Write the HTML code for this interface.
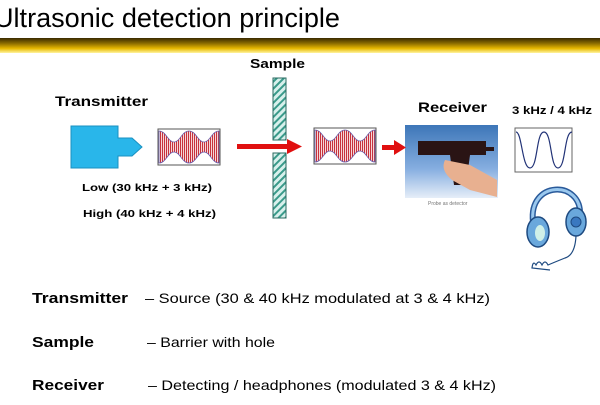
<!DOCTYPE html>
<html><head><style>
body{margin:0;width:600px;height:400px;overflow:hidden;background:#fff;font-family:"Liberation Sans",sans-serif}
</style></head><body>
<svg width="600" height="400" viewBox="0 0 600 400" xmlns="http://www.w3.org/2000/svg">
<defs>
<linearGradient id="bar" x1="0" y1="0" x2="0" y2="1">
<stop offset="0" stop-color="#3a2a00"/><stop offset="0.35" stop-color="#8a6a00"/><stop offset="0.7" stop-color="#e8b800"/><stop offset="1" stop-color="#fff4a0"/></linearGradient>
<pattern id="stripes" width="2" height="10" patternUnits="userSpaceOnUse"><rect width="1.2" height="10" fill="#c8323c"/></pattern>
<pattern id="hatch" width="5" height="5" patternUnits="userSpaceOnUse" patternTransform="rotate(45)"><rect width="5" height="5" fill="#d8f0ec"/><rect width="2" height="5" fill="#3a9a8a"/></pattern>
<linearGradient id="sky" x1="0" y1="0" x2="0" y2="1"><stop offset="0" stop-color="#3d76b8"/><stop offset="0.6" stop-color="#86aee0"/><stop offset="1" stop-color="#e6eef8"/></linearGradient>
<g id="pkt">
<rect x="0" y="0" width="62" height="36" fill="#fff" stroke="#555" stroke-width="1"/>
<path d="M1,2 C8,2 10,13 16,13 C22,13 24,2 31,2 C38,2 40,13 46,13 C52,13 54,2 61,2 L61,34 C54,34 52,23 46,23 C40,23 38,34 31,34 C24,34 22,23 16,23 C10,23 8,34 1,34 Z" fill="url(#stripes)" stroke="#6a5aa8" stroke-width="0.8"/>
</g>
</defs>
<text x="-6" y="27" font-size="27" fill="#000" textLength="346" lengthAdjust="spacingAndGlyphs">Ultrasonic  detection  principle</text>
<rect x="0" y="38" width="600" height="15" fill="url(#bar)"/>
<text x="250" y="68" font-size="13" font-weight="bold" textLength="55" lengthAdjust="spacingAndGlyphs">Sample</text>
<text x="55" y="106" font-size="14" font-weight="bold" textLength="93" lengthAdjust="spacingAndGlyphs">Transmitter</text>
<path d="M71,126 H118 V138 H132 L142,147 L132,156 H118 V168 H71 Z" fill="#29b6ea" stroke="#1a90c0"/>
<use href="#pkt" x="158" y="129"/>
<rect x="273" y="78" width="13" height="62" fill="url(#hatch)" stroke="#2a6a60"/>
<rect x="273" y="153" width="13" height="65" fill="url(#hatch)" stroke="#2a6a60"/>
<rect x="237" y="144" width="50" height="5" fill="#e01010"/>
<polygon points="287,139 302,146.5 287,154" fill="#e01010"/>
<use href="#pkt" x="314" y="128"/>
<text x="82" y="191" font-size="10" font-weight="bold" textLength="130" lengthAdjust="spacingAndGlyphs">Low (30 kHz + 3 kHz)</text>
<text x="83" y="217" font-size="10" font-weight="bold" textLength="133" lengthAdjust="spacingAndGlyphs">High (40 kHz + 4 kHz)</text>
<text x="418" y="112" font-size="14" font-weight="bold" textLength="69" lengthAdjust="spacingAndGlyphs">Receiver</text>
<text x="512" y="114" font-size="11" font-weight="bold" textLength="80" lengthAdjust="spacingAndGlyphs">3 kHz / 4 kHz</text>
<rect x="405" y="125" width="93" height="73" fill="url(#sky)"/>
<rect x="418" y="141" width="68" height="14" fill="#2a1414"/>
<rect x="486" y="147" width="8" height="4" fill="#2a1414"/>
<path d="M450,155 L470,155 L466,185 L454,185 Z" fill="#2a1414"/>
<path d="M445,160 Q440,170 452,180 L470,190 L497,197 L497,180 L470,165 Z" fill="#e8b090"/>
<rect x="382" y="145" width="14" height="5" fill="#e01010"/>
<polygon points="394,140 406,147.5 394,155" fill="#e01010"/>
<text x="428" y="205" font-size="5" fill="#777">Probe as detector</text>
<rect x="515" y="128" width="57" height="44" fill="#fff" stroke="#666"/>
<path d="M516,132 C522,132 522,168 530,168 C538,168 536,132 544,132 C552,132 550,168 558,168 C566,168 564,132 572,132" fill="none" stroke="#223377" stroke-width="1.2"/>
<path d="M533,222 C528,180 582,180 580,215" fill="none" stroke="#2a5a9a" stroke-width="6"/>
<path d="M533,222 C528,180 582,180 580,215" fill="none" stroke="#9ac8ee" stroke-width="3"/>
<ellipse cx="538" cy="232" rx="11" ry="15" fill="#6aa8dc" stroke="#1e4a80" stroke-width="1.5"/>
<ellipse cx="540" cy="233" rx="5" ry="8" fill="#d0f0e8"/>
<ellipse cx="576" cy="222" rx="10" ry="14" fill="#6aa8dc" stroke="#1e4a80" stroke-width="1.5"/>
<circle cx="576" cy="222" r="5" fill="#3a78c0" stroke="#1e4a80"/>
<path d="M576,236 Q575,255 565,258 Q555,262 548,265 q-3,-6 -6,0 q-3,-6 -6,0 q-3,-5 -4,3 L550,270" fill="none" stroke="#1e4a80" stroke-width="1.2"/>
<text x="32" y="303" font-size="15" font-weight="bold" textLength="96" lengthAdjust="spacingAndGlyphs">Transmitter</text>
<text x="145" y="303" font-size="14" textLength="345" lengthAdjust="spacingAndGlyphs">– Source  (30 &amp; 40 kHz modulated at 3 &amp; 4 kHz)</text>
<text x="32" y="347" font-size="15" font-weight="bold" textLength="62" lengthAdjust="spacingAndGlyphs">Sample</text>
<text x="147" y="347" font-size="14" textLength="128" lengthAdjust="spacingAndGlyphs">– Barrier with hole</text>
<text x="32" y="390" font-size="15" font-weight="bold" textLength="72" lengthAdjust="spacingAndGlyphs">Receiver</text>
<text x="148" y="390" font-size="14" textLength="348" lengthAdjust="spacingAndGlyphs">– Detecting / headphones (modulated  3 &amp; 4 kHz)</text>
</svg>
</body></html>
